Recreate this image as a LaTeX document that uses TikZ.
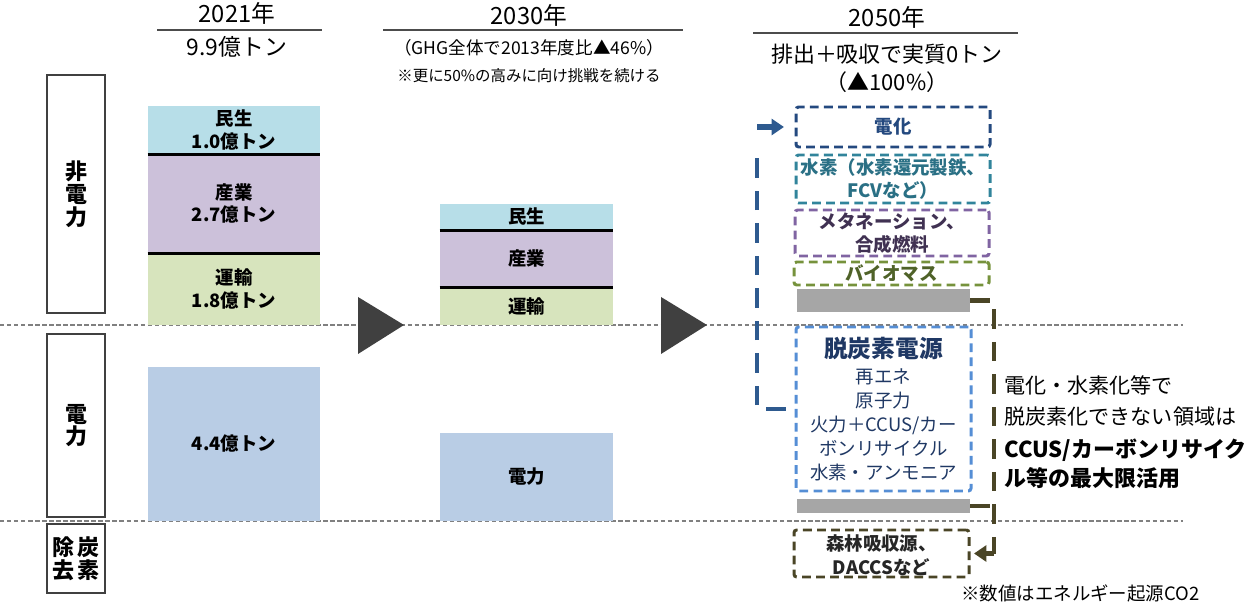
\documentclass[tikz,border=0pt]{standalone}
\usepackage{fontspec}
\setmainfont{Noto Sans CJK JP}
\usetikzlibrary{fit,arrows.meta}

\definecolor{minsei}{HTML}{B7DEE8}
\definecolor{sangyo}{HTML}{CCC1DA}
\definecolor{unyu}{HTML}{D7E4BD}
\definecolor{denryoku}{HTML}{B9CDE5}
\definecolor{barGray}{HTML}{A6A6A6}
\definecolor{denkaC}{HTML}{24497F}
\definecolor{suisoC}{HTML}{31849B}
\definecolor{suisoT}{HTML}{2A7085}
\definecolor{metaC}{HTML}{8064A2}
\definecolor{metaT}{HTML}{403152}
\definecolor{bioC}{HTML}{76923C}
\definecolor{bioT}{HTML}{4F6228}
\definecolor{ddenC}{HTML}{558ED5}
\definecolor{ddenT}{HTML}{1F3864}
\definecolor{shinrinC}{HTML}{4A4526}
\definecolor{lbrkC}{HTML}{2E5A8F}

\begin{document}
\begin{tikzpicture}[x=0.02cm, y=-0.02cm,
  hdr/.style={inner sep=0, font=\fontsize{13.5pt}{16pt}\selectfont},
  bar/.style={inner sep=0},
  bartxt/.style={inner sep=0, align=center, font=\bfseries\fontsize{10.5pt}{13pt}\selectfont},
  sepline/.style={line width=1.9pt, black},
  lbox/.style={draw=black!75, line width=0.8pt, inner sep=0},
  lboxtxt/.style={inner sep=0, align=center, font=\bfseries\fontsize{12.5pt}{13pt}\selectfont},
  dbox/.style={draw=#1, line width=1.7pt, dash pattern=on 5pt off 3pt, rounded corners=1.5pt, inner sep=0},
  graybar/.style={fill=barGray, inner sep=0},
  guide/.style={draw=black!50, line width=0.6pt, dash pattern=on 2.5pt off 1.5pt},
  hline/.style={draw=black!70, line width=0.6pt},
  tri/.style={fill=black!75},
  lbrk/.style={draw=lbrkC, line width=2.5pt, dash pattern=on 11pt off 7.5pt},
  rbrk/.style={draw=shinrinC, line width=2.5pt, dash pattern=on 11pt off 7.5pt},
  rtext/.style={anchor=west, inner sep=0, font=\fontsize{12pt}{14pt}\selectfont}]

\useasboundingbox (0,0) rectangle (1248,604);

\draw[guide] (0,325) -- (1183,325);
\draw[guide] (0,521) -- (1183,521);

\node[hdr] (y21) at (237,13) {2021年};
\draw[hline] (157,30) -- (322,30);
\node[hdr, font=\fontsize{13pt}{16pt}\selectfont] (t21) at (237,47) {9.9億トン};

\node[hdr] (y30) at (529,15) {2030年};
\draw[hline] (383,30) -- (683,30);
\node[hdr, font=\fontsize{10pt}{12pt}\selectfont] (t30a) at (529,48) {（GHG全体で2013年度比▲46\%）};
\node[hdr, font=\fontsize{8.8pt}{11pt}\selectfont] (t30b) at (529,76) {※更に50\%の高みに向け挑戦を続ける};

\node[hdr] (y50) at (887,17) {2050年};
\draw[hline] (753,33) -- (1018,33);
\node[hdr, font=\fontsize{12.5pt}{15pt}\selectfont] (t50a) at (887,54) {排出＋吸収で実質0トン};
\node[hdr, font=\fontsize{12.5pt}{15pt}\selectfont] (t50b) at (887,82) {（▲100\%）};

\node[lbox, fit={(47,75) (105,313)}] (hiden) {};
\node[lboxtxt] (hidenT) at (hiden) {非\\電\\力};
\node[lbox, fit={(47,334) (105,517)}] (den) {};
\node[lboxtxt] (denT) at (den) {電\\力};
\node[lbox, fit={(47,524) (105,593)}] (jokyo) {};
\node[lboxtxt] (jokyoT) at (jokyo) {除\hspace{2pt}炭\\去\hspace{2pt}素};

\node[bar, fill=minsei, fit={(148,106) (320,154)}] (m21) {};
\node[bar, fill=sangyo, fit={(148,154) (320,253)}] (s21) {};
\node[bar, fill=unyu, fit={(148,253) (320,325)}] (u21) {};
\draw[sepline] (m21.south west) -- (m21.south east);
\draw[sepline] (s21.south west) -- (s21.south east);
\node[bar, fill=denryoku, fit={(148,367) (320,521)}] (d21) {};
\node[bartxt] (m21T) at (m21) {民生\\1.0億トン};
\node[bartxt] (s21T) at (s21) {産業\\2.7億トン};
\node[bartxt] (u21T) at (u21) {運輸\\1.8億トン};
\node[bartxt] (d21T) at (d21) {4.4億トン};

\fill[tri] (358,297) -- (404,325) -- (358,354) -- cycle;

\node[bar, fill=minsei, fit={(440,204) (613,230)}] (m30) {};
\node[bar, fill=sangyo, fit={(440,230) (613,287)}] (s30) {};
\node[bar, fill=unyu, fit={(440,287) (613,325)}] (u30) {};
\draw[sepline] (m30.south west) -- (m30.south east);
\draw[sepline] (s30.south west) -- (s30.south east);
\node[bar, fill=denryoku, fit={(440,433) (613,521)}] (d30) {};
\node[bartxt] (m30T) at (m30) {民生};
\node[bartxt] (s30T) at (s30) {産業};
\node[bartxt] (u30T) at (u30) {運輸};
\node[bartxt] (d30T) at (d30) {電力};

\fill[tri] (661,297) -- (707,325) -- (661,354) -- cycle;

\node[dbox=denkaC, fit={(796,107) (990,147)}] (denka) {};
\node[dbox=suisoC, fit={(796,155) (990,203)}] (suiso) {};
\node[dbox=metaC, fit={(795,210) (989,256)}] (meta) {};
\node[dbox=bioC, fit={(794,262) (989,285)}] (bio) {};
\node[graybar, fit={(797,289) (970,312)}] (gray1) {};
\node[dbox=ddenC, fit={(796,327) (971,491)}] (dden) {};
\node[graybar, fit={(797,499) (970,513)}] (gray2) {};
\node[dbox=shinrinC, fit={(794,530) (969,577)}] (shinrin) {};
\node[bartxt, text=denkaC] (denkaT) at (denka) {電化};
\node[bartxt, text=suisoT] (suisoT) at (suiso) {水素（水素還元製鉄、\\FCVなど）};
\node[bartxt, text=metaT] (metaT) at (meta) {メタネーション、\\合成燃料};
\node[bartxt, text=bioT] (bioT) at (bio) {バイオマス};
\node[bartxt, text=ddenT, font=\fontsize{10.5pt}{13.7pt}\selectfont] (ddenT) at (dden)
  {{\bfseries\fontsize{13.5pt}{15pt}\selectfont 脱炭素電源}\\[1pt]再エネ\\原子力\\火力＋CCUS/カー\\ボンリサイクル\\水素・アンモニア};
\node[bartxt, text=black!85, font=\bfseries\fontsize{10.5pt}{13.7pt}\selectfont] (shinrinT) at ([yshift=-1pt]shinrin.center) {森林吸収源、\\DACCSなど};

\coordinate (lx) at (757,0);
\coordinate (ltop) at (757,150);
\coordinate (rx) at (994,0);
\draw[lbrk] ([xshift=-5pt]dden.west) -| (ltop);
\draw[draw=lbrkC, line width=3pt, -{Triangle[length=7pt,width=9pt]}] (denka.west -| lx) -- ([xshift=-6pt]denka.west);
\draw[rbrk] (gray1.east) -| (shinrin.east -| rx);
\draw[rbrk] (gray2.east) -- (gray2.east -| rx);
\draw[draw=shinrinC, line width=3pt, -{Triangle[length=7pt,width=9pt]}] (shinrin.east -| rx) -- ([xshift=2pt]shinrin.east);

\node[rtext] (r1) at (1004,385) {電化・水素化等で};
\node[rtext] (r2) at (1004,417) {脱炭素化できない領域は};
\node[rtext, font=\bfseries\fontsize{12.5pt}{14pt}\selectfont] (r3) at (1004,450) {CCUS/カーボンリサイク};
\node[rtext, font=\bfseries\fontsize{12.5pt}{14pt}\selectfont] (r4) at (1004,478) {ル等の最大限活用};

\node[rtext, font=\fontsize{10.5pt}{12pt}\selectfont] (note) at (961,593) {※数値はエネルギー起源CO2};

\end{tikzpicture}
\end{document}
